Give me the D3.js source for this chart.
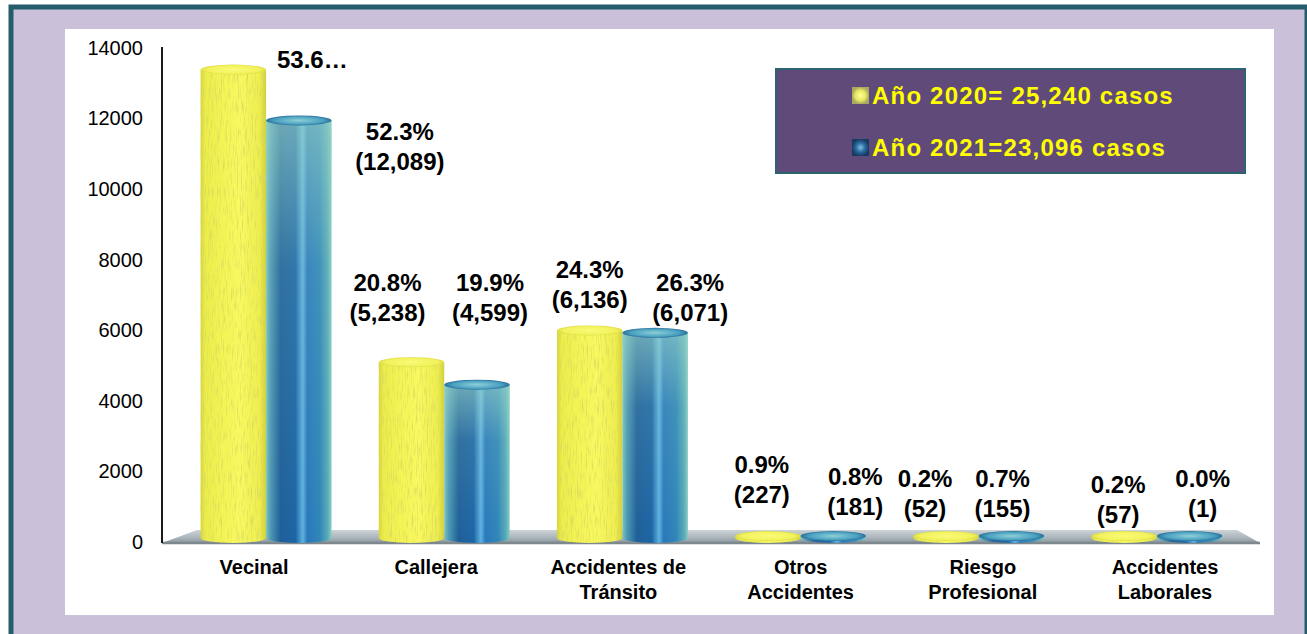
<!DOCTYPE html>
<html lang="es">
<head>
<meta charset="utf-8">
<title>Casos 2020 - 2021</title>
<script src="https://cdn.jsdelivr.net/npm/d3@7"></script>
<style>
  html, body { margin: 0; padding: 0; background: #ffffff; }
  svg { display: block; font-family: "Liberation Sans", Arial, sans-serif; }
</style>
</head>
<body>
<div id="chart"></div>
<script>
// ---- data ----
const categories = ['Vecinal', 'Callejera', 'Accidentes de Tránsito', 'Otros Accidentes', 'Riesgo Profesional', 'Accidentes Laborales'];
const categoryLines = [['Vecinal'], ['Callejera'], ['Accidentes de', 'Tránsito'], ['Otros', 'Accidentes'], ['Riesgo', 'Profesional'], ['Accidentes', 'Laborales']];
const series = ['2020', '2021'];
const cases2020 = [13530, 5238, 6136, 227, 52, 57];
const cases2021 = [12089, 4599, 6071, 181, 155, 1];
const labels2020 = [['53.6…'], ['20.8%', '(5,238)'], ['24.3%', '(6,136)'], ['0.9%', '(227)'], ['0.2%', '(52)'], ['0.2%', '(57)']];
const labels2021 = [['52.3%', '(12,089)'], ['19.9%', '(4,599)'], ['26.3%', '(6,071)'], ['0.8%', '(181)'], ['0.7%', '(155)'], ['0.0%', '(1)']];
const yTicks = [0, 2000, 4000, 6000, 8000, 10000, 12000, 14000];
const legendLabels = ['Año 2020= 25,240 casos', 'Año 2021=23,096 casos'];

// label nudges (dx from bar centre, dy from value position), placed by hand in the original
const nudge2020 = [[79, 3], [-24, -66], [0, -47], [-6, -61], [-21, -53], [-6, -47]];
const nudge2021 = [[101, 25], [13, -89], [35, -37], [22, -51], [-9, -50], [13, -55]];

const W = 1307, H = 634;
const COLORS = {
  frame: '#245e6c',
  panel: '#cbc0d9',
  legendFill: '#5f4a7a',
  legendText: '#ffff00',
  text: '#000000'
};

const svg = d3.select('#chart').append('svg')
  .attr('width', W)
  .attr('height', H)
  .attr('viewBox', `0 0 ${W} ${H}`);

const defs = svg.append('defs');

// horizontal shading of the yellow cylinders
const gy = defs.append('linearGradient').attr('id', 'yellowBody');
[[0, '#d6d63a'], [0.07, '#ecec4c'], [0.35, '#f4f456'], [0.6, '#f8f860'], [0.9, '#eeee50'], [1, '#d0d03a']]
  .forEach(([o, c]) => gy.append('stop').attr('offset', o).attr('stop-color', c));

const gyTop = defs.append('radialGradient').attr('id', 'yellowTop');
[[0, '#fafa78'], [0.8, '#f2f25c'], [1, '#dcdc46']]
  .forEach(([o, c]) => gyTop.append('stop').attr('offset', o).attr('stop-color', c));

// blue cylinders: teal edges, deep blue core, light streak
const gb = defs.append('linearGradient').attr('id', 'blueBody');
[[0, '#7ec2bc'], [0.07, '#4c98b4'], [0.22, '#1f5f98'], [0.45, '#1d65a6'], [0.56, '#5fb2e0'],
 [0.63, '#2a78bb'], [0.82, '#2f86b8'], [0.94, '#58aab8'], [1, '#86cdc4']]
  .forEach(([o, c]) => gb.append('stop').attr('offset', o).attr('stop-color', c));

const gbTint = defs.append('linearGradient').attr('id', 'blueTint')
  .attr('x1', 0).attr('y1', 0).attr('x2', 0).attr('y2', 1);
[[0, '#9fd8c8', 0.6], [0.35, '#9fd8c8', 0.15], [1, '#9fd8c8', 0]]
  .forEach(([o, c, a]) => gbTint.append('stop').attr('offset', o).attr('stop-color', c).attr('stop-opacity', a));

const gbTop = defs.append('radialGradient').attr('id', 'blueTop');
[[0, '#8ed0d8'], [0.75, '#4aa0c0'], [1, '#2a6f9a']]
  .forEach(([o, c]) => gbTop.append('stop').attr('offset', o).attr('stop-color', c));

// floor
const gf = defs.append('linearGradient').attr('id', 'floor')
  .attr('x1', 0).attr('y1', 0).attr('x2', 0).attr('y2', 1);
[[0, '#cdd4d8'], [0.6, '#aab4ba'], [1, '#8a959c']]
  .forEach(([o, c]) => gf.append('stop').attr('offset', o).attr('stop-color', c));

// legend swatches
const gly = defs.append('radialGradient').attr('id', 'legYellow');
[[0, '#ffffa0'], [0.6, '#e8e860'], [1, '#a8a860']]
  .forEach(([o, c]) => gly.append('stop').attr('offset', o).attr('stop-color', c));
const glb = defs.append('radialGradient').attr('id', 'legBlue');
[[0, '#7fc0e0'], [0.55, '#2a6aa0'], [1, '#173c60']]
  .forEach(([o, c]) => glb.append('stop').attr('offset', o).attr('stop-color', c));

// grainy texture for the yellow bars
const grain = defs.append('filter').attr('id', 'grain')
  .attr('x', 0).attr('y', 0).attr('width', 1).attr('height', 1);
grain.append('feTurbulence').attr('type', 'fractalNoise')
  .attr('baseFrequency', '0.8 0.07').attr('numOctaves', 2).attr('seed', 4).attr('result', 'n');
grain.append('feColorMatrix').attr('in', 'n').attr('type', 'matrix')
  .attr('values', '0 0 0 0 0.66  0 0 0 0 0.66  0 0 0 0 0.12  2.4 0 0 0 -1.18').attr('result', 'spots');
grain.append('feComposite').attr('in', 'spots').attr('in2', 'SourceGraphic').attr('operator', 'in').attr('result', 'spotsIn');
const merge = grain.append('feMerge');
merge.append('feMergeNode').attr('in', 'SourceGraphic');
merge.append('feMergeNode').attr('in', 'spotsIn');

// ---- background frame ----
svg.append('rect')
  .attr('x', 11).attr('y', 7)
  .attr('width', 1296).attr('height', 660)
  .attr('fill', COLORS.panel)
  .attr('stroke', COLORS.frame)
  .attr('stroke-width', 5);

svg.append('rect')
  .attr('x', 65).attr('y', 29)
  .attr('width', 1209).attr('height', 586)
  .attr('fill', '#ffffff');

// ---- scales ----
const x0 = d3.scaleBand()
  .domain(categories)
  .range([177, 1246])
  .paddingInner(0.265)
  .paddingOuter(0.1325);

const x1 = d3.scaleBand()
  .domain(series)
  .range([0, x0.bandwidth()]);

const y = d3.scaleLinear()
  .domain([0, 14000])
  .range([542, 48]);

const xLabel = d3.scalePoint()
  .domain(categories)
  .range([254, 1165]);

// ---- floor ----
const floorFront = y(0) + 1;
const floorBack = y(0) - 12;
svg.append('path')
  .attr('d', `M162,${floorFront} L197,${floorBack} L1237,${floorBack} L1260,${floorFront} Z`)
  .attr('fill', 'url(#floor)');
svg.append('line')
  .attr('x1', 162).attr('x2', 1260)
  .attr('y1', floorFront).attr('y2', floorFront)
  .attr('stroke', '#7c878e')
  .attr('stroke-width', 2.5);

// ---- y axis ----
const yAxis = svg.append('g')
  .attr('transform', 'translate(162,0)')
  .call(d3.axisLeft(y).tickValues(yTicks).tickSize(0).tickPadding(19).tickFormat(d3.format('d')));
yAxis.select('.domain')
  .attr('d', `M0,${y(14000) - 1}V${floorFront}`)
  .attr('stroke', '#1a1a1a')
  .attr('stroke-width', 2);
yAxis.selectAll('text')
  .attr('font-size', 20)
  .attr('font-family', '"Liberation Sans", Arial, sans-serif')
  .attr('fill', COLORS.text);

// ---- cylinders ----
const rows = categories.flatMap((c, i) => [
  { cat: c, s: '2020', v: cases2020[i], lab: labels2020[i], nd: nudge2020[i] },
  { cat: c, s: '2021', v: cases2021[i], lab: labels2021[i], nd: nudge2021[i] }
]);

const ry = 5;
const base = y(0) - 4;
const bars = svg.append('g').attr('class', 'bars');

rows.forEach(d => {
  const bx = x0(d.cat) + x1(d.s);
  const bw = x1.bandwidth();
  const cx = bx + bw / 2;
  const top = Math.min(y(d.v) + ry, base - 2);
  const g = bars.append('g');
  const isY = d.s === '2020';
  const body = `M${bx},${top} L${bx},${base} A${bw / 2},${ry} 0 0 0 ${bx + bw},${base} L${bx + bw},${top} Z`;

  g.append('path')
    .attr('d', body)
    .attr('fill', isY ? 'url(#yellowBody)' : 'url(#blueBody)')
    .attr('filter', isY ? 'url(#grain)' : null);
  if (!isY) {
    g.append('path')
      .attr('d', body)
      .attr('fill', 'url(#blueTint)');
  }
  g.append('ellipse')
    .attr('cx', cx).attr('cy', top)
    .attr('rx', bw / 2).attr('ry', ry)
    .attr('fill', isY ? 'url(#yellowTop)' : 'url(#blueTop)');
});

// ---- value labels ----
const valueLabels = svg.append('g').attr('class', 'value-labels');
rows.forEach(d => {
  const cx = x0(d.cat) + x1(d.s) + x1.bandwidth() / 2;
  const t = valueLabels.append('text')
    .attr('x', cx + d.nd[0])
    .attr('y', y(d.v) + d.nd[1])
    .attr('text-anchor', 'middle')
    .attr('font-size', 24)
    .attr('font-weight', 'bold')
    .attr('fill', COLORS.text);
  d.lab.forEach((line, k) => {
    t.append('tspan')
      .attr('x', cx + d.nd[0])
      .attr('dy', k === 0 ? 0 : 30)
      .text(line);
  });
});

// ---- category labels ----
const catLabels = svg.append('g').attr('class', 'category-labels');
categories.forEach((c, i) => {
  const t = catLabels.append('text')
    .attr('x', xLabel(c))
    .attr('y', 574)
    .attr('text-anchor', 'middle')
    .attr('font-size', 20)
    .attr('font-weight', 'bold')
    .attr('fill', COLORS.text);
  categoryLines[i].forEach((line, k) => {
    t.append('tspan')
      .attr('x', xLabel(c))
      .attr('dy', k === 0 ? 0 : 25)
      .text(line);
  });
});

// ---- legend ----
const legend = svg.append('g').attr('class', 'legend');
legend.append('rect')
  .attr('x', 776).attr('y', 69)
  .attr('width', 469).attr('height', 104)
  .attr('fill', COLORS.legendFill)
  .attr('stroke', '#2b6371')
  .attr('stroke-width', 2);

legendLabels.forEach((txt, i) => {
  const ly = 104 + i * 52;
  legend.append('rect')
    .attr('x', 852).attr('y', ly - 17)
    .attr('width', 17).attr('height', 17)
    .attr('fill', i === 0 ? 'url(#legYellow)' : 'url(#legBlue)');
  legend.append('text')
    .attr('x', 872).attr('y', ly)
    .attr('font-size', 24)
    .attr('font-weight', 'bold')
    .attr('letter-spacing', 1.2)
    .attr('fill', COLORS.legendText)
    .text(txt);
});
</script>
</body>
</html>
